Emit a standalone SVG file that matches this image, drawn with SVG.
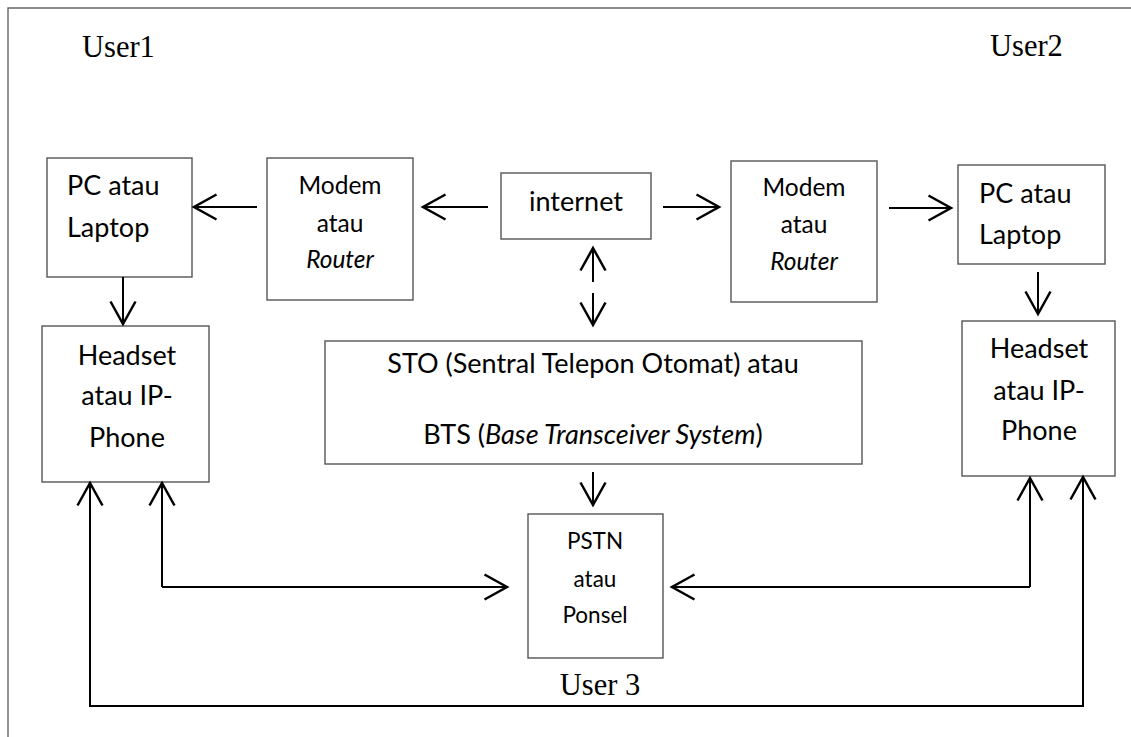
<svg xmlns="http://www.w3.org/2000/svg" width="1131" height="737" viewBox="0 0 1131 737">
<style>
.box{fill:#fff;stroke:#555;stroke-width:1.4}
.t{font-family:Lato,"Open Sans",sans-serif;fill:#000}
.big{font-size:27px}
.mid{font-size:24.5px}
.sm{font-size:22.5px}
.usr{font-family:"Liberation Serif",serif;font-size:30.5px;fill:#000}
.c{stroke:#000;stroke-width:2;fill:none}
</style>
<defs>
<marker id="ah" markerUnits="userSpaceOnUse" markerWidth="30" markerHeight="30" viewBox="-20 -12 22 24" refX="0" refY="0" orient="auto">
<path d="M-18,-10 L0,0 L-18,10" fill="none" stroke="#000" stroke-width="2"/>
</marker>
</defs>
<rect width="1131" height="737" fill="#fff"/>
<path d="M8,737 L8,8 L1131,8" fill="none" stroke="#666" stroke-width="1.4"/>
<text class="usr" x="82" y="57">User1</text>
<text class="usr" x="990" y="56">User2</text>

<g id="pc1"><rect class="box" x="47" y="158" width="145" height="119"/>
<text class="t big" x="67" y="195">PC atau</text><text class="t big" x="67" y="237">Laptop</text></g>
<g id="modem1"><rect class="box" x="267" y="158" width="146" height="142"/>
<text class="t mid" x="340" y="194" text-anchor="middle">Modem</text><text class="t mid" x="340" y="232" text-anchor="middle">atau</text><text class="t mid" x="340" y="268" text-anchor="middle" font-style="italic">Router</text></g>
<g id="internet"><rect class="box" x="501" y="173" width="150" height="66"/>
<text class="t big" x="576" y="211" text-anchor="middle">internet</text></g>
<g id="modem2"><rect class="box" x="731" y="161" width="146" height="141"/>
<text class="t mid" x="804" y="196" text-anchor="middle">Modem</text><text class="t mid" x="804" y="233" text-anchor="middle">atau</text><text class="t mid" x="804" y="270" text-anchor="middle" font-style="italic">Router</text></g>
<g id="pc2"><rect class="box" x="958" y="165" width="147" height="99"/>
<text class="t big" x="979" y="203">PC atau</text><text class="t big" x="979" y="244">Laptop</text></g>
<g id="headset1"><rect class="box" x="42" y="326" width="167" height="156"/>
<text class="t big" x="127" y="365" text-anchor="middle">Headset</text><text class="t big" x="127" y="405" text-anchor="middle">atau IP-</text><text class="t big" x="127" y="447" text-anchor="middle">Phone</text></g>
<g id="headset2"><rect class="box" x="962" y="321" width="153" height="155"/>
<text class="t big" x="1039" y="358" text-anchor="middle">Headset</text><text class="t big" x="1039" y="400" text-anchor="middle">atau IP-</text><text class="t big" x="1039" y="440" text-anchor="middle">Phone</text></g>
<g id="sto"><rect class="box" x="325" y="341" width="537" height="123"/>
<text class="t big" x="593" y="373" text-anchor="middle">STO (Sentral Telepon Otomat) atau</text>
<text class="t big" x="593" y="444" text-anchor="middle">BTS (<tspan font-style="italic">Base Transceiver System</tspan>)</text></g>
<g id="pstn"><rect class="box" x="528" y="514" width="135" height="144"/>
<text class="t sm" x="595" y="549" text-anchor="middle">PSTN</text><text class="t sm" x="595" y="587" text-anchor="middle">atau</text><text class="t sm" x="595" y="623" text-anchor="middle">Ponsel</text>
<text class="usr" x="600" y="695" text-anchor="middle" font-size="28px">User 3</text></g>

<g id="connectors">
<line class="c" x1="257" y1="207" x2="194" y2="207" marker-end="url(#ah)"/>
<line class="c" x1="488" y1="207" x2="423" y2="207" marker-end="url(#ah)"/>
<line class="c" x1="663" y1="207" x2="719" y2="207" marker-end="url(#ah)"/>
<line class="c" x1="889" y1="208" x2="951" y2="208" marker-end="url(#ah)"/>
<line class="c" x1="123" y1="277" x2="123" y2="324" marker-end="url(#ah)"/>
<line class="c" x1="1038" y1="272" x2="1038" y2="314" marker-end="url(#ah)"/>
<line class="c" x1="593" y1="282" x2="593" y2="248" marker-end="url(#ah)"/>
<line class="c" x1="593" y1="293" x2="593" y2="325" marker-end="url(#ah)"/>
<line class="c" x1="593" y1="472" x2="593" y2="505" marker-end="url(#ah)"/>
<path class="c" d="M162,587 L162,483" marker-end="url(#ah)"/>
<path class="c" d="M162,587 L507,587" marker-end="url(#ah)"/>
<path class="c" d="M1030,587 L1030,478" marker-end="url(#ah)"/>
<path class="c" d="M1030,587 L672,587" marker-end="url(#ah)"/>
<path class="c" d="M1083,706 L90,706 L90,483" marker-end="url(#ah)"/>
<path class="c" d="M90,706 L1083,706 L1083,477" marker-end="url(#ah)"/>
</g>
</svg>
